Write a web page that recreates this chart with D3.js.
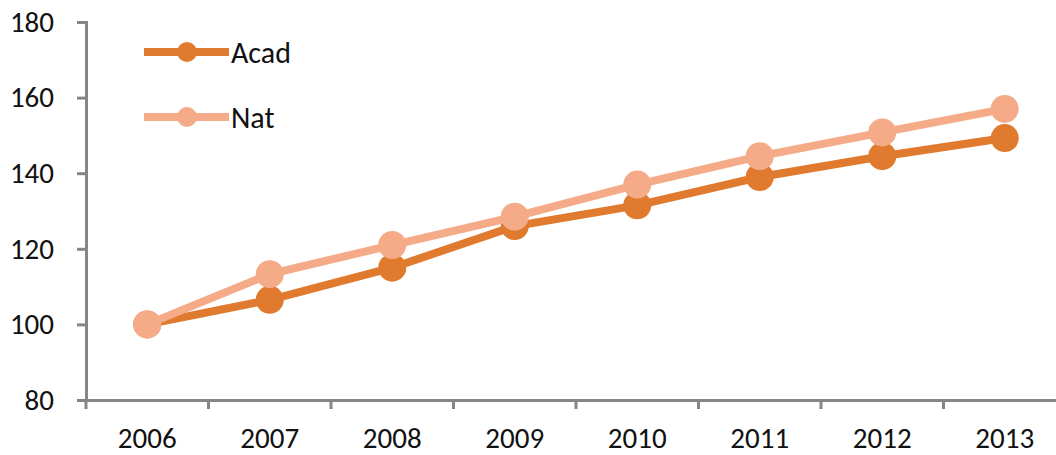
<!DOCTYPE html>
<html>
<head>
<meta charset="utf-8">
<script src="https://cdn.jsdelivr.net/npm/d3@7"></script>
<style>
  html, body { margin: 0; padding: 0; background: #fff; }
  svg text { font-family: Carlito, "Open Sans", "Liberation Sans", sans-serif; fill: #111; }
</style>
</head>
<body>
<svg id="chart" width="1056" height="455"></svg>
<script>
// Index values, 2006 = 100
const years = ["2006", "2007", "2008", "2009", "2010", "2011", "2012", "2013"];
const acad = [100, 106.5, 115, 126, 131.5, 139, 144.5, 149.3];
const nat  = [100, 113.3, 121, 128.5, 137, 144.5, 150.8, 157];
const yTicks = [80, 100, 120, 140, 160, 180];
const seriesNames = ["Acad", "Nat"];
const seriesColors = ["#e07a2e", "#f5aa88"];

const svg = d3.select("#chart");
const plotLeft = 86, plotRight = 1066, plotTop = 22, plotBottom = 400;
const axisColor = "#868686";

const x = d3.scaleBand().domain(years).range([plotLeft, plotRight]);
const y = d3.scaleLinear().domain([80, 180]).range([plotBottom, plotTop]);

// Y axis
const yAxis = svg.append("g")
  .attr("transform", `translate(${plotLeft},0)`)
  .call(d3.axisLeft(y).tickValues(yTicks).tickSize(9).tickPadding(23));
yAxis.select(".domain").attr("stroke", axisColor).attr("stroke-width", 3);
yAxis.selectAll(".tick line").attr("stroke", axisColor).attr("stroke-width", 3);
yAxis.selectAll(".tick text").attr("font-size", 29);

// X axis with ticks on category boundaries
const xAxis = svg.append("g")
  .attr("transform", `translate(0,${plotBottom})`)
  .call(d3.axisBottom(x).tickSize(0).tickPadding(27));
xAxis.select(".domain").attr("stroke", axisColor).attr("stroke-width", 3);
xAxis.selectAll(".tick text").attr("font-size", 29);
svg.append("g").selectAll("line")
  .data(years)
  .join("line")
  .attr("x1", d => x(d)).attr("x2", d => x(d))
  .attr("y1", plotBottom).attr("y2", plotBottom + 9)
  .attr("stroke", axisColor).attr("stroke-width", 3);

const line = d3.line()
  .x((d, i) => x(years[i]) + x.bandwidth() / 2)
  .y(d => y(d));

const data = [acad, nat];
data.forEach((vals, s) => {
  const g = svg.append("g");
  g.append("path")
    .attr("d", line(vals))
    .attr("fill", "none")
    .attr("stroke", seriesColors[s])
    .attr("stroke-width", 8);
  g.selectAll("circle")
    .data(vals)
    .join("circle")
    .attr("cx", (d, i) => x(years[i]) + x.bandwidth() / 2)
    .attr("cy", d => y(d))
    .attr("r", 14)
    .attr("fill", seriesColors[s]);
});

// Legend
const legend = svg.append("g");
seriesNames.forEach((name, i) => {
  const ly = 52 + i * 65;
  legend.append("line")
    .attr("x1", 144).attr("x2", 229).attr("y1", ly).attr("y2", ly)
    .attr("stroke", seriesColors[i]).attr("stroke-width", 8);
  legend.append("circle")
    .attr("cx", 187).attr("cy", ly).attr("r", 10)
    .attr("fill", seriesColors[i]);
  legend.append("text")
    .attr("x", 231).attr("y", ly).attr("dy", "0.35em")
    .attr("font-size", 30)
    .text(name);
});
</script>
</body>
</html>
